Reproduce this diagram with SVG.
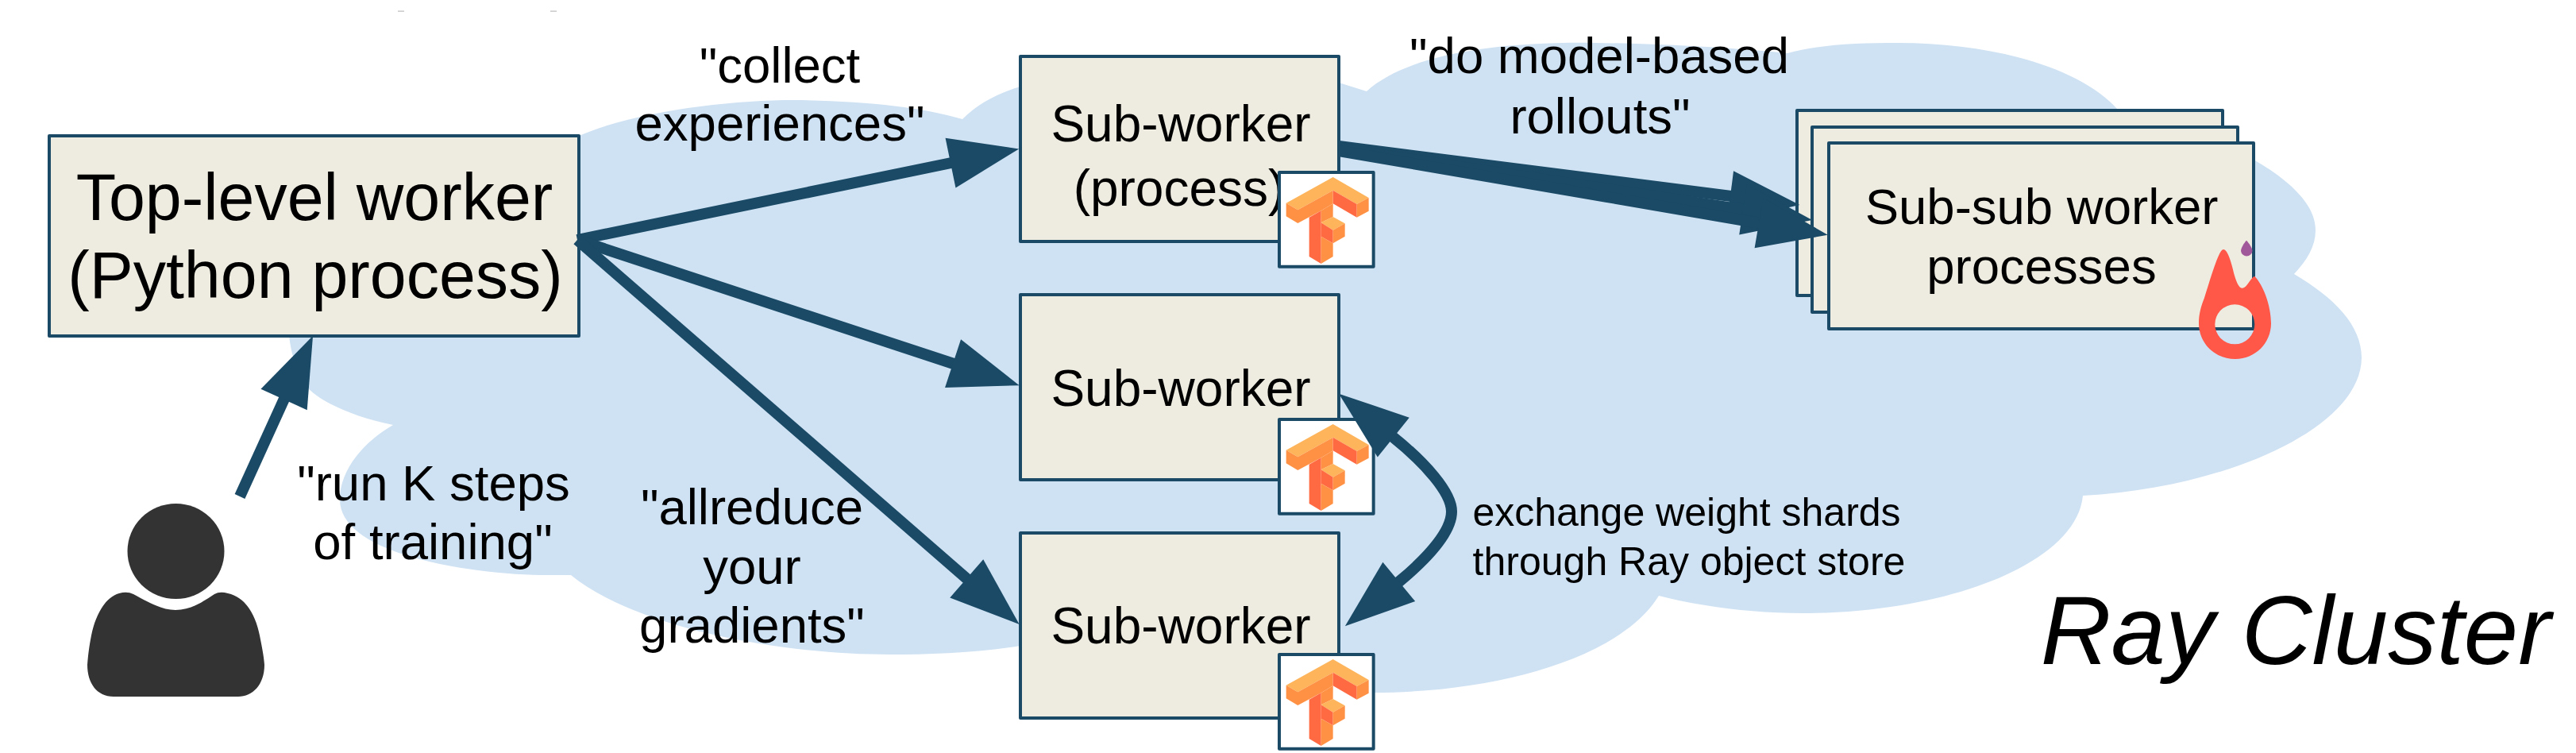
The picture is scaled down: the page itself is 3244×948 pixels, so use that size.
<svg xmlns="http://www.w3.org/2000/svg" width="3244" height="948" viewBox="0 0 3244 948">
<style>
text{font-family:"Liberation Sans",Arial,sans-serif;fill:#000;text-anchor:middle}
.box{fill:#eeece1;stroke:#1a4a66;stroke-width:4;stroke-linejoin:round}
.tfbox{fill:#fff;stroke:#1a4a66;stroke-width:4;stroke-linejoin:round}
.conn{fill:none;stroke:#1a4a66;stroke-width:14}
.t82{font-size:82.500px}.t63{font-size:63.500px}.t58{font-size:64px}.t50{font-size:50px}
.l{fill:#fdb45a}.m{fill:#ff9145}.d{fill:#ff6a42}
</style>
<defs>
<marker id="head" markerUnits="userSpaceOnUse" markerWidth="88" markerHeight="64" refX="1" refY="32" orient="auto-start-reverse" overflow="visible">
<polygon points="0,0 88,32 0,64" fill="#1a4a66"/>
</marker>
<g id="tf" transform="scale(.3333) translate(-92,-50)">
<rect class="tfbox" x="92" y="50" width="356" height="356" style="stroke-width:12"/>
<polygon class="l" points="118,166 295,68 430,146 385,170 295,118 162,192"/>
<polygon class="m" points="118,166 162,192 295,118 295,168 250,195 162,242 118,216"/>
<polygon class="d" points="295,118 385,170 385,220 295,168"/>
<polygon class="m" points="385,170 430,146 430,196 385,220"/>
<polygon class="d" points="205,220 250,195 250,395 205,368"/>
<polygon class="m" points="250,195 295,168 295,218 250,240"/>
<polygon class="l" points="250,240 295,218 340,243 295,268"/>
<polygon class="d" points="250,240 295,268 295,318 250,292"/>
<polygon class="m" points="295,268 340,243 340,292 295,318"/>
<polygon class="m" points="250,292 295,318 295,368 250,395"/>
</g>
</defs>
<rect width="3244" height="948" fill="#fff"/>
<rect x="501" y="13.5" width="8" height="1.2" fill="#bbb"/>
<rect x="693" y="13.5" width="8" height="1.2" fill="#bbb"/>
<path id="cloud" fill="#cfe2f3" d="M495,535 C445,525 400,505 385,485 C375,470 368,450 365,430 C350,340 560,225 729,171 C800,140 920,126 1000,126 C1090,127 1160,135 1212,150 C1232,130 1258,117 1285,109 C1400,60 1600,70 1686,104 L1721,115 C1770,70 1880,52 2010,54 C2090,55 2180,60 2251,67 C2290,56 2340,54 2390,54 C2510,54 2620,85 2667,138 L2838,201 C2885,228 2916,258 2916,290 C2916,310 2905,328 2889,345 C2940,375 2974,410 2974,450 C2974,540 2800,615 2623,624 C2615,710 2450,772 2270,772 C2205,772 2140,763 2089,750 C2040,830 1880,872 1729,872 L1285,813 C1230,822 1170,824 1121,824 C980,824 800,790 719,724 L691,724 C600,724 428,700 428,629 C428,590 460,555 495,535 Z"/>
<g id="user" fill="#333">
<ellipse cx="221.500" cy="694" rx="61" ry="60"/>
<path d="M150,747 Q160,744 168,748 C190,760 205,768 221,768 C240,768 255,758 270,748 Q277,744 287,747 C310,752 322,775 327,800 C330,815 332,825 333,837 C333,862 318,877 300,877 L143,877 C122,877 110,860 110,837 C111,825 112,815 115,800 C120,775 132,752 150,747 Z"/>
</g>
<g id="top-level-worker">
<rect class="box" x="62" y="171" width="667" height="252"/>
<text class="t82" x="396" y="277">Top-level worker</text>
<text class="t82" x="397" y="375">(Python process)</text>
</g>
<g id="sub-worker-1">
<rect class="box" x="1285" y="71" width="401" height="233"/>
<text class="t58" x="1487" y="178">Sub-worker</text>
<text class="t58" x="1485" y="259">(process)</text>
<use href="#tf" x="1611" y="217"/>
</g>
<g id="sub-worker-2">
<rect class="box" x="1285" y="371" width="401" height="233"/>
<text class="t58" x="1487" y="511">Sub-worker</text>
<use href="#tf" x="1611" y="528"/>
</g>
<g id="sub-worker-3">
<rect class="box" x="1285" y="671" width="401" height="233"/>
<text class="t58" x="1487" y="810">Sub-worker</text>
<use href="#tf" x="1611" y="824"/>
</g>
<g id="sub-sub-workers">
<rect class="box" x="2263" y="139" width="536" height="233"/>
<rect class="box" x="2282" y="160" width="536" height="233"/>
<rect class="box" x="2303" y="180" width="535" height="234"/>
<text class="t63" x="2571" y="282">Sub-sub worker</text>
<text class="t63" x="2571" y="357">processes</text>
<path fill="#ff5748" fill-rule="evenodd" d="M2800,314 C2806,314 2811,335 2814,347 C2817,357 2820,363 2824,362.700 C2830,362 2834,350 2839,347.700 C2850,358 2860,385 2860,407 C2860,432 2840,452 2815,452 C2789,452 2769,432 2769,407 C2769,395 2772,385 2776,375 C2784,350 2794,314 2800,314 Z M2814.300,383.300 A25,25 0 1 0 2814.301,433.300 A25,25 0 1 0 2814.300,383.300 Z"/>
<path fill="#a0589b" d="M2829,302.700 C2832,306 2836.500,312 2836.500,316 A7.300,7.300 0 0 1 2822,316 C2822,312 2826,306 2829,302.700 Z"/>
</g>
<g id="connectors">
<path class="conn" marker-end="url(#head)" d="M302,625 L358,502"/>
<path class="conn" marker-end="url(#head)" d="M727,302 L1198,205"/>
<path class="conn" marker-end="url(#head)" d="M727,302 L1201,458"/>
<path class="conn" marker-end="url(#head)" d="M727,302 L1218,729"/>
<path class="conn" marker-end="url(#head)" d="M1686,184 L2180,247"/>
<path class="conn" marker-end="url(#head)" d="M1686,187 L2196,264"/>
<path class="conn" marker-end="url(#head)" d="M1686,190 L2216,281"/>
<path class="conn" marker-start="url(#head)" marker-end="url(#head)" d="M1754,550 C1794,582 1828,620 1828,644 C1828,668 1801,700 1761,733"/>
</g>
<g id="labels">
<text class="t63" x="982" y="104">"collect</text>
<text class="t63" x="982" y="177">experiences"</text>
<text class="t63" x="2014" y="92">"do model-based</text>
<text class="t63" x="2015" y="168">rollouts"</text>
<text class="t63" x="546" y="630">"run K steps</text>
<text class="t63" x="545" y="704">of training"</text>
<text class="t63" x="947" y="660">"allreduce</text>
<text class="t63" x="947" y="735">your</text>
<text class="t63" x="947" y="809">gradients"</text>
<text class="t50" x="2124" y="662">exchange weight shards</text>
<text class="t50" x="2127" y="724">through Ray object store</text>
<text x="2891" y="836" style="font-size:123px;font-style:italic">Ray Cluster</text>
</g>
</svg>
